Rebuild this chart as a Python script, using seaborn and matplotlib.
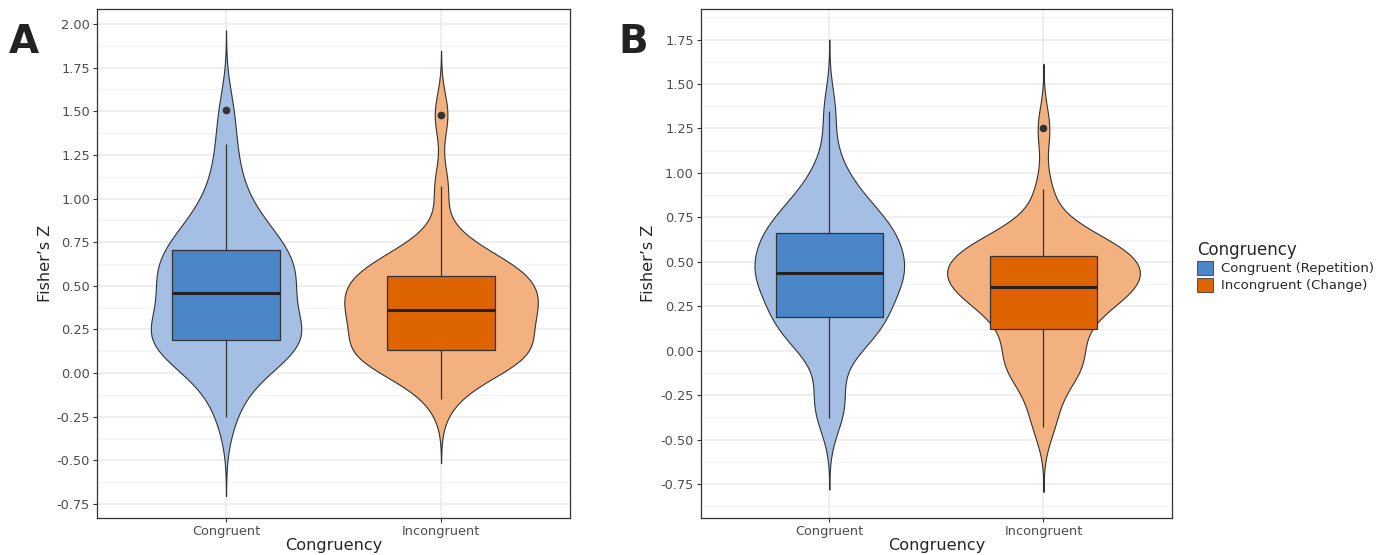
import numpy as np
import pandas as pd
import matplotlib
matplotlib.use("Agg")
import matplotlib.pyplot as plt
import seaborn as sns
from matplotlib.patches import Patch

categories = ["Congruent", "Incongruent"]
legend_labels = ["Congruent (Repetition)", "Incongruent (Change)"]

a_congruent = [-0.25, -0.10, -0.02, 0.04, 0.08, 0.11, 0.14, 0.16, 0.17, 0.18,
               0.193, 0.21, 0.23, 0.25, 0.27, 0.30, 0.34, 0.38, 0.42, 0.45,
               0.47, 0.50, 0.52, 0.55, 0.57, 0.59, 0.62, 0.65, 0.68, 0.70,
               0.73, 0.76, 0.79, 0.83, 0.88, 0.95, 1.03, 1.15, 1.31, 1.51]
a_incongruent = [-0.15, -0.04, 0.00, 0.03, 0.06, 0.08, 0.095, 0.105, 0.115, 0.12,
                 0.133, 0.16, 0.19, 0.22, 0.25, 0.27, 0.29, 0.31, 0.33, 0.35,
                 0.37, 0.38, 0.40, 0.42, 0.44, 0.46, 0.48, 0.50, 0.52, 0.55,
                 0.565, 0.575, 0.59, 0.61, 0.63, 0.66, 0.70, 0.79, 1.07, 1.48]
b_congruent = [-0.38, -0.31, -0.22, -0.03, 0.03, 0.07, 0.10, 0.13, 0.16, 0.18,
               0.195, 0.23, 0.27, 0.30, 0.33, 0.36, 0.38, 0.40, 0.42, 0.43,
               0.45, 0.47, 0.49, 0.52, 0.55, 0.57, 0.60, 0.62, 0.64, 0.66,
               0.68, 0.71, 0.74, 0.77, 0.80, 0.84, 0.89, 0.96, 1.08, 1.35]
b_incongruent = [-0.43, -0.33, -0.20, -0.13, -0.10, -0.08, -0.05, -0.02, 0.06, 0.115,
                 0.128, 0.17, 0.21, 0.25, 0.28, 0.30, 0.32, 0.34, 0.35, 0.355,
                 0.365, 0.38, 0.40, 0.42, 0.44, 0.46, 0.48, 0.50, 0.51, 0.525,
                 0.55, 0.56, 0.57, 0.58, 0.60, 0.62, 0.65, 0.74, 0.91, 1.25]

a_ticks = [-0.75, -0.50, -0.25, 0.00, 0.25, 0.50, 0.75, 1.00, 1.25, 1.50, 1.75, 2.00]
b_ticks = [-0.75, -0.50, -0.25, 0.00, 0.25, 0.50, 0.75, 1.00, 1.25, 1.50, 1.75]

box_colors = {"Congruent": "#4A86C8", "Incongruent": "#DD6400"}
violin_colors = {"Congruent": "#A4BFE3", "Incongruent": "#F2B17F"}


def make_df(cong, incong):
    return pd.DataFrame({
        "Congruency": ["Congruent"] * len(cong) + ["Incongruent"] * len(incong),
        "z": cong + incong,
    })


sns.set_theme(style="white")
plt.rcParams["font.family"] = ["DejaVu Sans"]

fig = plt.figure(figsize=(13.86, 5.55), dpi=100)
ax_a = fig.add_axes([0.0700, 0.0667, 0.3413, 0.9165])
ax_b = fig.add_axes([0.5056, 0.0667, 0.3400, 0.9165])


def draw_panel(ax, df, ticks, ylim, letter, letter_x, bw):
    # ggplot-like grid: major + minor horizontal, major vertical
    for t in ticks:
        ax.axhline(t, color="#EBEBEB", lw=1.1, zorder=0)
        ax.axhline(t + 0.125, color="#F2F2F2", lw=0.8, zorder=0)
    ax.axhline(ticks[0] - 0.125, color="#F2F2F2", lw=0.8, zorder=0)
    for i in range(len(categories)):
        ax.axvline(i, color="#EBEBEB", lw=1.1, zorder=0)

    sns.violinplot(data=df, x="Congruency", y="z", hue="Congruency",
                   order=categories, hue_order=categories, palette=violin_colors,
                   dodge=False, inner=None, cut=3, bw_adjust=bw,
                   density_norm="area", common_norm=True,
                   width=0.9, linewidth=0.8, linecolor="#333333",
                   saturation=1, legend=False, ax=ax)
    sns.boxplot(data=df, x="Congruency", y="z", hue="Congruency",
                order=categories, hue_order=categories, palette=box_colors,
                dodge=False, width=0.5, whis=1.5, showcaps=False,
                linewidth=0.9, linecolor="#333333", saturation=1,
                fliersize=4.5,
                flierprops=dict(marker="o", markerfacecolor="#333333",
                                markeredgecolor="#333333"),
                medianprops=dict(color="#222222", linewidth=2.2),
                legend=False, ax=ax)

    ax.set_ylim(*ylim)
    ax.set_xlim(-0.6, 1.6)
    ax.set_yticks(ticks)
    ax.set_yticklabels([f"{t:.2f}" for t in ticks])
    ax.set_xlabel("Congruency", fontsize=11.6, labelpad=0)
    ax.set_ylabel("Fisher\u2019s Z", fontsize=11.6, labelpad=3)
    ax.tick_params(axis="both", which="major", length=3, width=0.8,
                   color="#333333", labelcolor="#4D4D4D", labelsize=9.3, pad=2,
                   bottom=True, left=True)
    for s in ax.spines.values():
        s.set_color("#333333")
        s.set_linewidth(0.9)
    ax.grid(False)
    fig.text(letter_x, 0.905, letter, fontsize=28, fontweight="heavy",
             color="#222222", ha="left", va="baseline")


draw_panel(ax_a, make_df(a_congruent, a_incongruent), a_ticks, (-0.83, 2.084), "A", 0.006, 0.82)
draw_panel(ax_b, make_df(b_congruent, b_incongruent), b_ticks, (-0.94, 1.92), "B", 0.446, 0.76)

handles = [Patch(facecolor=box_colors[c], edgecolor="#555555", linewidth=0.8)
           for c in categories]
leg = fig.legend(handles, legend_labels, title="Congruency", loc="center left",
                 bbox_to_anchor=(0.855, 0.52), frameon=False, fontsize=9.5,
                 title_fontsize=12, handlelength=1.2, handleheight=1.2,
                 handletextpad=0.6, labelspacing=0.2, alignment="left")

fig.savefig("out.png", dpi=100)
